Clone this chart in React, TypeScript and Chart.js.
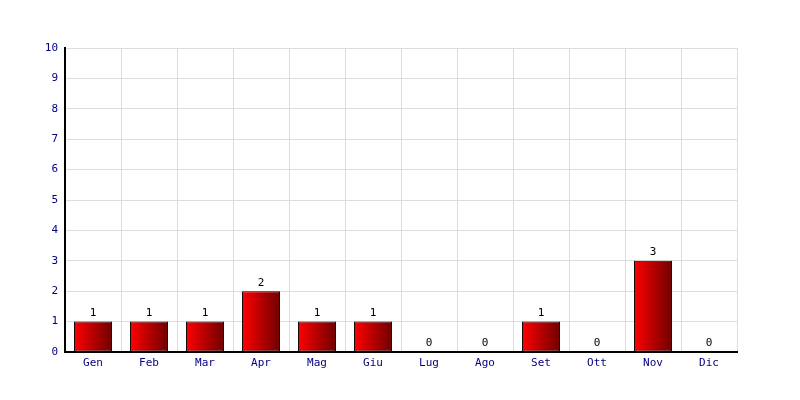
import React, { useEffect, useRef } from "react";
import { Chart, registerables } from "chart.js";

Chart.register(...registerables);

const months = ["Gen", "Feb", "Mar", "Apr", "Mag", "Giu", "Lug", "Ago", "Set", "Ott", "Nov", "Dic"];
const counts = [1, 1, 1, 2, 1, 1, 0, 0, 1, 0, 3, 0];
const yMax = 10;

const FONT = "'DejaVu Sans Mono', monospace";
const BAR_PCT = 0.68;

function barGradient(context: any) {
  const chart = context.chart;
  const xs = chart.scales && chart.scales.x;
  if (!chart.chartArea || !xs || context.dataIndex === undefined) return "#cc0000";
  const cx = xs.getPixelForValue(context.dataIndex);
  const w = (xs.width / months.length) * BAR_PCT;
  const g = chart.ctx.createLinearGradient(cx - w / 2, 0, cx + w / 2, 0);
  g.addColorStop(0, "#ff0000");
  g.addColorStop(1, "#700000");
  return g;
}

const valueLabelPlugin = {
  id: "valueLabels",
  afterDatasetsDraw(chart: any) {
    const ctx = chart.ctx;
    const meta = chart.getDatasetMeta(0);
    ctx.save();
    ctx.font = `11px ${FONT}`;
    ctx.fillStyle = "#000000";
    ctx.textAlign = "center";
    ctx.textBaseline = "bottom";
    meta.data.forEach((el: any, i: number) => {
      ctx.fillText(String(counts[i]), el.x, el.y - 3);
    });
    ctx.restore();
  },
};

export default function App() {
  const ref = useRef<HTMLCanvasElement>(null);
  useEffect(() => {
    if (!ref.current) return;
    const chart = new Chart(ref.current, {
      type: "bar",
      data: {
        labels: months,
        datasets: [
          {
            data: counts,
            backgroundColor: barGradient,
            borderColor: "#000000",
            borderWidth: 1,
            borderSkipped: false,
            barPercentage: BAR_PCT,
            categoryPercentage: 1,
          },
        ],
      },
      options: {
        responsive: false,
        animation: false,
        devicePixelRatio: 1,
        layout: { padding: { left: 0, right: 63, top: 48, bottom: 0 } },
        plugins: { legend: { display: false }, tooltip: { enabled: false } },
        scales: {
          x: {
            offset: true,
            grid: { color: "#dddddd", offset: true, drawTicks: false },
            border: { display: true, color: "#000000", width: 2 },
            ticks: { color: "#000080", font: { family: FONT, size: 11 }, padding: 5 },
            afterFit(scale: any) {
              scale.height = 48;
            },
          },
          y: {
            min: 0,
            max: yMax,
            grid: { color: "#dddddd", drawTicks: false },
            border: { display: true, color: "#000000", width: 2 },
            ticks: { stepSize: 1, color: "#000080", font: { family: FONT, size: 11 }, padding: 7 },
            afterFit(scale: any) {
              scale.width = 65;
            },
          },
        },
      },
      plugins: [valueLabelPlugin],
    });
    return () => chart.destroy();
  }, []);
  return (
    <canvas
      ref={ref}
      width={800}
      height={400}
      style={{ position: "absolute", left: 0, top: 0, width: 800, height: 400, background: "#ffffff" }}
    />
  );
}
